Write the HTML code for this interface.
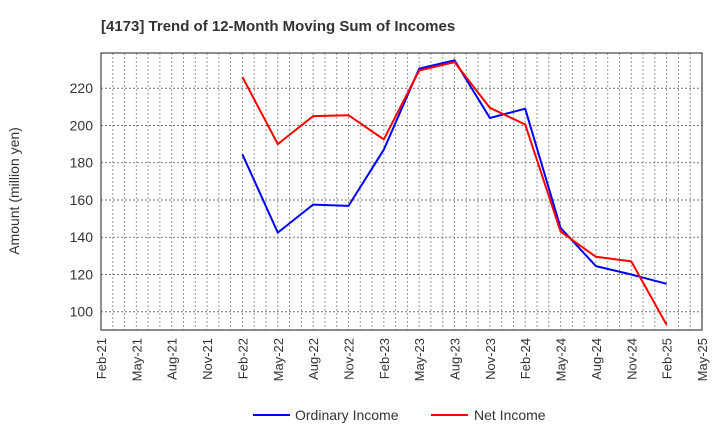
<!DOCTYPE html>
<html><head><meta charset="utf-8"><style>
body{margin:0;background:#fff;font-family:"Liberation Sans",sans-serif;}
svg{display:block}
</style></head><body>
<svg id="c" width="720" height="440" xmlns="http://www.w3.org/2000/svg">
<text x="101" y="31" font-size="15" font-weight="bold" fill="#333">[4173]  Trend of 12-Month Moving Sum of Incomes</text>
<text transform="translate(19,191) rotate(-90)" text-anchor="middle" font-size="14" fill="#333">Amount (million yen)</text>
<g id="grid"></g><g id="axes"></g><g id="series"></g>
<g>
<line x1="253" y1="415" x2="290" y2="415" stroke="#0000ff" stroke-width="2"/>
<text x="295" y="420" font-size="14" fill="#333">Ordinary Income</text>
<line x1="431" y1="415" x2="468" y2="415" stroke="#ff0000" stroke-width="2"/>
<text x="474" y="420" font-size="14" fill="#333">Net Income</text>
</g>
</svg>
<script>
const xLabels=["Feb-21","May-21","Aug-21","Nov-21","Feb-22","May-22","Aug-22","Nov-22","Feb-23","May-23","Aug-23","Nov-23","Feb-24","May-24","Aug-24","Nov-24","Feb-25","May-25"];
const yTicks=[100,120,140,160,180,200,220];
const ordinaryIncome=[null,null,null,null,184.5,142.5,157.5,156.8,187,230.5,235,204,209,145,124.5,120,115];
const netIncome=[null,null,null,null,226,190,205,205.5,192.5,229.5,234,209.5,200.5,143,129.5,127,93];
const L=101,R=702,T=53,B=330,yMin=90.2,yMax=238.9;
const NS="http://www.w3.org/2000/svg";
const xs=i=>L+i*(R-L)/(xLabels.length-1);
const ys=v=>B-(v-yMin)/(yMax-yMin)*(B-T);
function mk(t,a,p){const e=document.createElementNS(NS,t);for(const k in a)e.setAttribute(k,a[k]);p.appendChild(e);return e;}
const grid=document.getElementById('grid'),axes=document.getElementById('axes'),ser=document.getElementById('series');
for(let m=1;m<(xLabels.length-1)*3;m++){const x=L+m*(R-L)/((xLabels.length-1)*3);
const g=mk('line',{x1:x,x2:x,y1:T,y2:B,stroke:'#999','stroke-dasharray':'2,2','stroke-width':1},grid);

}
yTicks.forEach(v=>{const y=ys(v);
const g=mk('line',{x1:L,x2:R,y1:y,y2:y,stroke:'#777','stroke-dasharray':'2,2','stroke-width':1},grid);


const t=mk('text',{x:L-8,y:y+5,'text-anchor':'end','font-size':14,fill:'#333'},axes);t.textContent=v;

});
const fr=mk('rect',{x:L,y:T,width:R-L,height:B-T,fill:'none',stroke:'#444','stroke-width':1.2},axes);


xLabels.forEach((s,i)=>{const x=xs(i);
const t=mk('text',{transform:`translate(${x+5},${B+8}) rotate(-90)`,'text-anchor':'end','font-size':13,fill:'#333'},axes);t.textContent=s;

});
function line(arr,col,name){const pts=[];arr.forEach((v,i)=>{if(v!=null)pts.push(xs(i).toFixed(1)+','+ys(v).toFixed(1));});
const p=mk('polyline',{points:pts.join(' '),fill:'none',stroke:col,'stroke-width':2,'stroke-linejoin':'round'},ser);

}
line(ordinaryIncome,'#0000ff','ordinary-income-line');
line(netIncome,'#ff0000','net-income-line');
</script>
</body></html>
